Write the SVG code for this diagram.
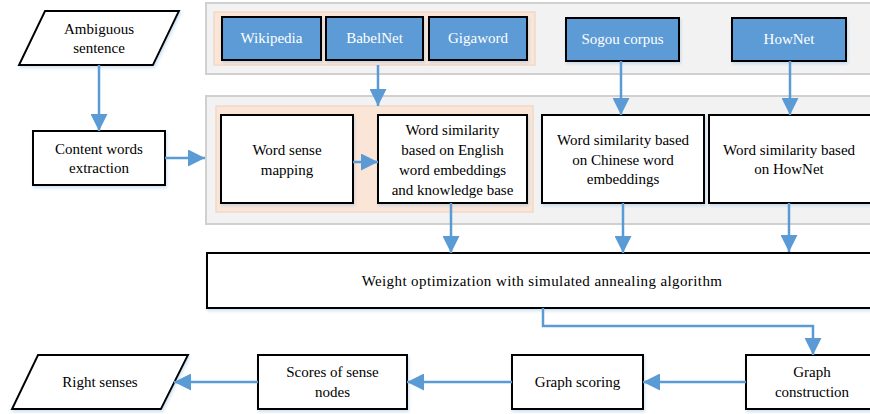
<svg xmlns="http://www.w3.org/2000/svg" width="870" height="414" viewBox="0 0 870 414" font-family="'Liberation Serif', 'Times New Roman', serif">
<defs>
<marker id="ah" viewBox="0 0 10 10" refX="10" refY="5" markerWidth="6.8" markerHeight="6.8" orient="auto" markerUnits="strokeWidth">
<path d="M0,0 L10,5 L0,10 z" fill="#5b9bd5"/>
</marker>
<filter id="sh" x="-10%" y="-10%" width="130%" height="140%">
<feDropShadow dx="1" dy="2" stdDeviation="1.5" flood-color="#9dc3e6" flood-opacity="0.5"/>
</filter>
</defs>
<style>
.panel{fill:#f2f2f2;stroke:#d0d0d0;stroke-width:2}
.org{fill:#fbe5d6;stroke:#efd9cb;stroke-width:1.5}
.blue{fill:#5b9bd5;stroke:#000;stroke-width:2;filter:url(#sh)}
.box{fill:#fff;stroke:#000;stroke-width:2;filter:url(#sh)}
text{font-family:'Liberation Serif','Times New Roman',serif;font-size:15px;text-anchor:middle;fill:#000}
.wt{fill:#fff}
.c{fill:none;stroke:#5b9bd5;stroke-width:2.5;marker-end:url(#ah)}
</style>
<rect width="870" height="414" fill="#fff"/>
<g id="panel-top">
<rect class="panel" x="206" y="3" width="670" height="71"/>
<rect class="org" x="214" y="12" width="321" height="53"/>
</g>
<g id="panel-mid">
<rect class="panel" x="206" y="96" width="670" height="128"/>
<rect class="org" x="216" y="106" width="317" height="106"/>
</g>
<g id="wikipedia"><rect class="blue" x="222" y="17" width="99" height="43"/><text class="wt" x="271.5" y="43">Wikipedia</text></g>
<g id="babelnet"><rect class="blue" x="326" y="17" width="97" height="43"/><text class="wt" x="374.5" y="43">BabelNet</text></g>
<g id="gigaword"><rect class="blue" x="429" y="17" width="98" height="43"/><text class="wt" x="478" y="43">Gigaword</text></g>
<g id="sogou"><rect class="blue" x="566" y="18" width="113" height="43"/><text class="wt" x="622.5" y="44">Sogou corpus</text></g>
<g id="hownet"><rect class="blue" x="732" y="18" width="114" height="43"/><text class="wt" x="789" y="44">HowNet</text></g>
<g id="ambiguous"><path class="box" d="M45,11 L179,11 L153,65 L19,65 z"/><text x="99" y="34">Ambiguous</text><text x="99" y="53">sentence</text></g>
<g id="content"><rect class="box" x="33" y="131" width="132" height="54"/><text x="99" y="154">Content words</text><text x="99" y="173">extraction</text></g>
<g id="mapping"><rect class="box" x="221" y="115" width="132" height="88"/><text x="287" y="155">Word sense</text><text x="287" y="175">mapping</text></g>
<g id="english"><rect class="box" x="378" y="115" width="149" height="88"/><text x="452.5" y="135">Word similarity</text><text x="452.5" y="155">based on English</text><text x="452.5" y="175">word embeddings</text><text x="452.5" y="195">and knowledge base</text></g>
<g id="chinese"><rect class="box" x="542" y="115" width="162" height="88"/><text x="623" y="145">Word similarity based</text><text x="623" y="165">on Chinese word</text><text x="623" y="184">embeddings</text></g>
<g id="hownetsim"><rect class="box" x="709" y="115" width="166" height="88"/><text x="789" y="155">Word similarity based</text><text x="789" y="174">on HowNet</text></g>
<g id="weight"><rect class="box" x="207" y="253" width="668" height="55"/><text x="542" y="286" letter-spacing="0.4">Weight optimization with simulated annealing algorithm</text></g>
<g id="construction"><rect class="box" x="746" y="355" width="129" height="54"/><text x="812" y="377">Graph</text><text x="812" y="397">construction</text></g>
<g id="scoring"><rect class="box" x="512" y="355" width="131" height="54"/><text x="577.5" y="387">Graph scoring</text></g>
<g id="scores"><rect class="box" x="258" y="355" width="149" height="54"/><text x="332.5" y="377">Scores of sense</text><text x="332.5" y="397">nodes</text></g>
<g id="right"><path class="box" d="M38,355 L188,355 L161,409 L12,409 z"/><text x="100" y="387">Right senses</text></g>
<g id="connectors">
<path class="c" d="M99,65 V131"/>
<path class="c" d="M165,158 H205"/>
<path class="c" d="M378,65 V106"/>
<path class="c" d="M353,162 H378"/>
<path class="c" d="M621,61 V115"/>
<path class="c" d="M790,61 V115"/>
<path class="c" d="M451,203 V253"/>
<path class="c" d="M623,203 V253"/>
<path class="c" d="M789,203 V252"/>
<path class="c" d="M543,308 V326 H813 V355"/>
<path class="c" d="M746,382 H643"/>
<path class="c" d="M512,382 H407"/>
<path class="c" d="M258,382 H174"/>
</g>
</svg>
